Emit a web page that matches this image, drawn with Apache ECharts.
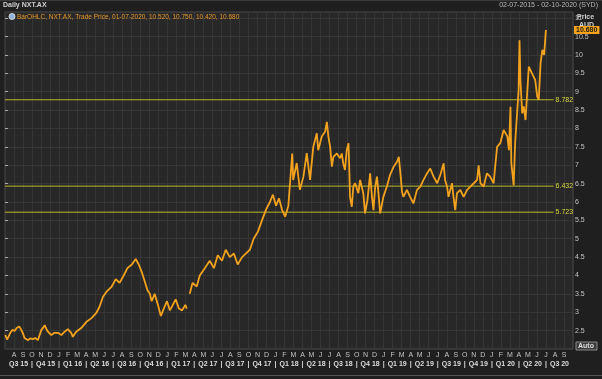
<!DOCTYPE html>
<html><head><meta charset="utf-8">
<script src="https://cdn.jsdelivr.net/npm/echarts@6/dist/echarts.min.js"></script>
<style>html,body{margin:0;padding:0;background:#1f1f1f;}#c{width:602px;height:379px;}</style>
</head><body><div id="c"></div>
<script>
// ---- data ----
const monthLetters = ['J','F','M','A','M','J','J','A','S','O','N','D'];
const quarterLabels = ['Q3 15','Q4 15','Q1 16','Q2 16','Q3 16','Q4 16','Q1 17','Q2 17','Q3 17','Q4 17','Q1 18','Q2 18','Q3 18','Q4 18','Q1 19','Q2 19','Q3 19','Q4 19','Q1 20','Q2 20','Q3 20'];
const levels = [8.782, 6.432, 5.723];
const lastBar = {date:'01-07-2020', open:10.520, high:10.750, low:10.420, close:10.680};
const dates = [
'2015-07-02','2015-07-08','2015-07-13','2015-07-20','2015-07-27','2015-08-03','2015-08-10','2015-08-19','2015-08-24','2015-08-31',
'2015-09-06','2015-09-12','2015-09-18','2015-09-25','2015-10-04','2015-10-12','2015-10-21','2015-10-27','2015-11-02','2015-11-08',
'2015-11-13','2015-11-19','2015-11-24','2015-11-30','2015-12-05','2015-12-16','2015-12-28','2016-01-09','2016-01-20','2016-01-31',
'2016-02-11','2016-02-16','2016-02-27','2016-03-15','2016-04-02','2016-04-19','2016-05-05','2016-05-16','2016-05-28','2016-06-09',
'2016-06-26','2016-07-10','2016-07-23','2016-08-06','2016-08-19','2016-09-03','2016-09-16','2016-09-26','2016-10-06','2016-10-16',
'2016-10-26','2016-11-03','2016-11-09','2016-11-19','2016-11-30','2016-12-10','2016-12-20','2016-12-31','2017-01-10','2017-01-20',
'2017-01-30','2017-02-09','2017-02-19','2017-03-01','2017-03-06','2017-03-11','2017-03-16','2017-03-26','2017-04-09','2017-04-19',
'2017-05-06','2017-05-23','2017-06-06','2017-06-19','2017-07-03','2017-07-16','2017-07-30','2017-08-13','2017-08-26','2017-09-10',
'2017-09-23','2017-10-06','2017-10-19','2017-11-03','2017-11-16','2017-11-30','2017-12-13','2017-12-23','2018-01-03','2018-01-13',
'2018-01-23','2018-02-03','2018-02-13','2018-02-25','2018-02-28','2018-03-12','2018-03-23','2018-04-04','2018-04-15','2018-04-26',
'2018-05-07','2018-05-19','2018-05-24','2018-06-05','2018-06-16','2018-06-22','2018-06-27','2018-07-03','2018-07-09','2018-07-14',
'2018-07-26','2018-08-06','2018-08-12','2018-08-17','2018-08-23','2018-08-29','2018-09-04','2018-09-07','2018-09-09','2018-09-15',
'2018-09-20','2018-09-26','2018-10-07','2018-10-13','2018-10-24','2018-10-30','2018-11-07','2018-11-16','2018-11-22','2018-11-27',
'2018-12-03','2018-12-09','2018-12-14','2018-12-20','2018-12-25','2018-12-31','2019-01-12','2019-01-23','2019-02-04','2019-02-15',
'2019-02-20','2019-02-26','2019-03-02','2019-03-07','2019-03-19','2019-03-30','2019-04-10','2019-04-22','2019-05-03','2019-05-14',
'2019-05-26','2019-06-06','2019-06-17','2019-06-29','2019-07-10','2019-07-21','2019-07-26','2019-08-02','2019-08-07','2019-08-19',
'2019-08-24','2019-08-30','2019-09-05','2019-09-16','2019-09-27','2019-10-09','2019-10-20','2019-11-01','2019-11-12','2019-11-17',
'2019-11-23','2019-12-04','2019-12-15','2019-12-26','2020-01-07','2020-01-19','2020-01-30','2020-02-10','2020-02-22','2020-02-27',
'2020-03-03','2020-03-06','2020-03-14','2020-03-19','2020-03-25','2020-03-31','2020-04-03','2020-04-06','2020-04-12','2020-04-17',
'2020-04-23','2020-05-04','2020-05-15','2020-05-26','2020-06-02','2020-06-07','2020-06-13','2020-06-19','2020-06-25','2020-06-30',
'2020-07-01'];
const prices = [
2.38,2.26,2.33,2.45,2.52,2.49,2.57,2.61,2.55,2.44,
2.30,2.27,2.24,2.29,2.27,2.30,2.24,2.38,2.52,2.58,
2.65,2.54,2.47,2.47,2.38,2.44,2.44,2.38,2.47,2.54,
2.44,2.33,2.47,2.57,2.74,2.84,2.98,3.15,3.42,3.56,
3.70,3.90,3.80,4.00,4.20,4.30,4.45,4.30,4.10,3.85,
3.60,3.50,3.30,3.50,3.20,2.90,3.10,3.30,3.05,3.20,
3.35,3.10,3.05,3.20,3.10,null,3.50,3.80,3.70,4.00,
4.20,4.40,4.20,4.55,4.40,4.70,4.50,4.60,4.30,4.50,
4.60,4.70,5.00,5.20,5.50,5.80,6.00,6.20,5.90,6.10,
5.80,5.60,5.90,7.32,6.60,7.06,6.33,6.69,7.33,6.60,
7.50,7.87,7.41,7.78,7.91,8.18,7.78,7.50,6.96,7.23,
7.32,7.19,7.32,7.05,6.87,7.41,7.60,6.78,6.14,5.87,
6.42,6.51,6.24,6.60,6.24,5.69,6.05,6.78,6.14,5.78,
6.42,6.69,6.24,5.69,5.65,6.14,6.42,6.74,6.96,7.10,
7.23,6.69,6.28,6.14,6.33,6.14,5.96,6.33,6.42,6.60,
6.78,6.91,6.69,6.51,6.74,7.05,6.60,6.42,6.14,6.51,
6.14,5.78,6.24,6.33,6.14,6.33,6.42,6.51,6.60,7.00,
6.51,6.42,6.78,6.69,6.51,7.50,7.60,7.96,7.78,7.41,
8.59,7.06,6.45,7.60,8.32,9.05,10.40,9.32,8.41,8.60,
8.23,9.68,9.50,9.32,8.87,8.78,9.78,10.14,10.00,10.59,
10.68];

// ---- build ----
function toMonth(s){
  const p = s.split('-').map(Number);
  const dim = new Date(p[0], p[1], 0).getDate();
  return (p[0]-2015)*12 + (p[1]-7) + (p[2]-1)/dim;
}
const priceData = dates.map((d,i)=>[toMonth(d), prices[i]]);
const X_MIN = 0, X_MAX = 63, LEVEL_END = 60.85;
const FONT_N = 'Liberation Sans';
const gridCol = '#363636', txt = '#c4c4c4';

const levelSeries = levels.map(v=>({
  type:'line', data:[[X_MIN, v],[LEVEL_END, v]], symbol:'none', silent:true,
  lineStyle:{color:'#b9b92a', width:1}, z:3,
  endLabel:{show:true, formatter: ()=>v.toFixed(3), color:'#d6d63c', fontSize:7, fontFamily:FONT_N, distance:2}
}));

const chart = echarts.init(document.getElementById('c'), null, {renderer:'canvas'});
chart.setOption({
  backgroundColor:'#1f1f1f',
  animation:false,
  grid:{left:5, right:29, top:12, bottom:30, show:true, backgroundColor:'#282828', borderColor:'#4a4a4a', borderWidth:1},
  xAxis:[{
    type:'value', min:X_MIN, max:X_MAX, interval:1, position:'bottom',
    axisLine:{show:false}, axisTick:{show:false},
    splitLine:{show:true, lineStyle:{color:gridCol, width:1}},
    axisLabel:{margin:3, color:txt, fontSize:7, fontFamily:FONT_N, showMinLabel:false, showMaxLabel:false,
      formatter:(v)=>{const m=Math.round(v); return (m>0&&m<X_MAX)? monthLetters[(m+6)%12] : '';}}
  },{
    type:'value', min:X_MIN, max:X_MAX, interval:1.5, position:'bottom', offset:9,
    axisLine:{show:false}, axisTick:{show:false}, splitLine:{show:false},
    axisLabel:{margin:3, color:'#dcdcdc', fontSize:7, fontWeight:'bold', fontFamily:FONT_N, showMinLabel:false, showMaxLabel:false,
      formatter:(v)=>{const k=Math.round(v/1.5); if(k%2===0){return (k>0 && k*1.5<X_MAX)?'|':'';} return quarterLabels[(k-1)/2]||'';}}
  }],
  yAxis:{
    type:'value', position:'right', min:2, max:11.17, interval:0.5,
    axisLine:{show:false},
    axisTick:{show:true, length:3, lineStyle:{color:'#aaaaaa'}},
    splitLine:{show:true, lineStyle:{color:gridCol, width:1}},
    axisLabel:{margin:2, color:txt, fontSize:7, fontFamily:FONT_N, showMinLabel:false, showMaxLabel:false,
      formatter:(v)=> (Math.abs(v-Math.round(v))<1e-6? String(Math.round(v)) : v.toFixed(1))}
  },
  series:[
    {type:'line', data:priceData, symbol:'none', connectNulls:false, z:4,
     lineStyle:{color:'#f3a21e', width:1.8}},
    ...levelSeries
  ]
});

// price tag on the axis, placed through the library's own scale
const tagY = chart.convertToPixel({yAxisIndex:0}, lastBar.close);
const legendText = 'BarOHLC, NXT.AX, Trade Price, '+lastBar.date+', '+lastBar.open.toFixed(3)+', '+lastBar.high.toFixed(3)+', '+lastBar.low.toFixed(3)+', '+lastBar.close.toFixed(3);
chart.setOption({
  graphic:[
    {type:'text', left:3, top:2, style:{text:'Daily NXT.AX', fill:'#d0d0d0', font:'bold 7px "Liberation Sans"'}},
    {type:'text', right:4, top:2, style:{text:'02-07-2015 - 02-10-2020 (SYD)', fill:'#b8b8b8', font:'7px "Liberation Sans"'}},
    {type:'circle', shape:{cx:12, cy:16.5, r:3}, style:{fill:'#8fb3dc', stroke:'#e8e8e8', lineWidth:0.8}},
    {type:'text', left:17, top:13.5, style:{text:legendText, fill:'#e8962a', font:'6.5px "Liberation Sans"'}},
    {type:'text', left:577, top:14, style:{text:'Price', fill:'#d0d0d0', font:'bold 7px "Liberation Sans"'}},
    {type:'text', left:579, top:22, style:{text:'AUD', fill:'#d0d0d0', font:'bold 7px "Liberation Sans"'}},
    {type:'text', x:574, y:tagY, style:{text:lastBar.close.toFixed(3), fill:'#1a1a1a', font:'bold 7px "Liberation Sans"',
      verticalAlign:'middle', backgroundColor:'#f5a31a', padding:[1,2,0,2]}, z:10},
    {type:'rect', shape:{x:576, y:342, width:21, height:8}, style:{fill:'#3a3a3a', stroke:'#8a8a8a', lineWidth:1}},
    {type:'text', left:578, top:343, style:{text:'Auto', fill:'#e0e0e0', font:'bold 7px "Liberation Sans"'}},
    {type:'line', shape:{x1:0, y1:375.5, x2:602, y2:375.5}, style:{stroke:'#555555', lineWidth:1}},
    {type:'line', shape:{x1:0, y1:0.5, x2:602, y2:0.5}, style:{stroke:'#3a3a3a', lineWidth:1}}
  ]
});
</script></body></html>
